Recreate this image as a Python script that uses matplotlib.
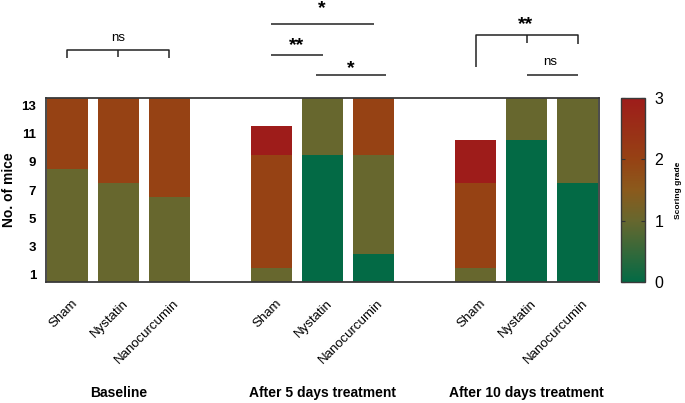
import matplotlib
matplotlib.use("Agg")
import matplotlib.pyplot as plt
import numpy as np
from matplotlib.colors import LinearSegmentedColormap, Normalize
from matplotlib.cm import ScalarMappable
import matplotlib.transforms as mtransforms

plt.rcParams['font.family'] = ['Liberation Sans', 'DejaVu Sans']

# ---- data ----
groups = ["Baseline", "After 5 days treatment", "After 10 days treatment"]
treatments = ["Sham", "Nystatin", "Nanocurcumin"]
grades = [0, 1, 2, 3]
# number of mice per grade for each bar (Baseline x3, 5 days x3, 10 days x3)
grade0_counts = [0, 0, 0, 0, 9, 2, 0, 10, 7]
grade1_counts = [8, 7, 6, 1, 4, 7, 1, 3, 6]
grade2_counts = [5, 6, 7, 8, 0, 4, 6, 0, 0]
grade3_counts = [0, 0, 0, 2, 0, 0, 3, 0, 0]
y_ticks = [1, 3, 5, 7, 9, 11, 13]
cbar_ticks = [0, 1, 2, 3]

# ---- colormap ----
cmap = LinearSegmentedColormap.from_list(
    "score",
    [(0.0, "#036A45"), (1/3, "#67672E"), (0.5, "#8B5A1C"), (2/3, "#964214"), (1.0, "#9E1C1A")])
norm = Normalize(0, 3)

fig = plt.figure(figsize=(6.85, 4.03), dpi=100)
ax = fig.add_axes([46/685, 1-282/403, (599-46)/685, (282-98)/403])

positions = []
for g in range(len(groups)):
    for t in range(len(treatments)):
        positions.append(g * 4 + t)
positions = np.array(positions, dtype=float)

counts = [grade0_counts, grade1_counts, grade2_counts, grade3_counts]
bottom = np.full(len(positions), 0.5)
for gr, c in zip(grades, counts):
    c = np.array(c, dtype=float)
    ax.bar(positions, c, bottom=bottom, width=0.82, color=cmap(norm(gr)),
           edgecolor='none', linewidth=0)
    bottom = bottom + c

ax.set_xlim(positions[0] - 0.42, positions[-1] + 0.42)
ax.set_ylim(0.5, 13.5)
ax.set_yticks(y_ticks)
ax.set_yticklabels([str(v) for v in y_ticks], fontsize=9.5, fontweight='bold')
ax.tick_params(axis='y', length=0, pad=7)

labels = treatments * len(groups)
ax.set_xticks(positions)
ax.set_xticklabels(labels, rotation=45, ha='right', va='center',
                   rotation_mode='anchor', fontsize=9.5)
ax.tick_params(axis='x', length=0, pad=14)
off = mtransforms.ScaledTranslation(8/100, 0, fig.dpi_scale_trans)
for lbl in ax.get_xticklabels():
    lbl.set_transform(lbl.get_transform() + off)

for sp in ax.spines.values():
    sp.set_color('#3a3a3a')
    sp.set_linewidth(1.3)

fig.text(8.7/685, 0.5*(2-282/403-98/403) , "No. of mice", rotation=90,
         ha='center', va='center', fontsize=10, fontweight='bold')

# group labels
for g, name in enumerate(groups):
    ax.text(positions[g*3+1], -0.605, name, transform=ax.get_xaxis_transform(),
            ha='center', va='center', fontsize=10, fontweight='bold')

# significance annotations
tr = ax.get_xaxis_transform()
lc = '#222222'
lw = 1.1
def line(xs, ys):
    ax.plot(xs, ys, color=lc, lw=lw, transform=tr, clip_on=False, solid_capstyle='butt')

# baseline bracket
line([0, 0, 2, 2], [1.216, 1.261, 1.261, 1.216])
line([1, 1], [1.261, 1.225])
ax.text(1, 1.328, "ns", transform=tr, ha='center', va='center', fontsize=9.5)

# 5 days
line([4, 6], [1.402, 1.402])
ax.text(4.98, 1.485, "*", transform=tr, ha='center', va='center', fontsize=14, fontweight='bold')
line([4, 5], [1.234, 1.234])
ax.text(4.49, 1.285, "**", transform=tr, ha='center', va='center', fontsize=14, fontweight='bold')
line([4.87, 6.25], [1.125, 1.125])
ax.text(5.55, 1.16, "*", transform=tr, ha='center', va='center', fontsize=14, fontweight='bold')

# 10 days
line([8, 8, 10, 10], [1.170, 1.342, 1.342, 1.293])
line([9, 9], [1.342, 1.30])
ax.text(8.98, 1.40, "**", transform=tr, ha='center', va='center', fontsize=14, fontweight='bold')
line([9, 10], [1.125, 1.125])
ax.text(9.47, 1.194, "ns", transform=tr, ha='center', va='center', fontsize=9.5)

# colorbar
cax = fig.add_axes([621/685, 1-282/403, 24/685, (282-98)/403])
sm = ScalarMappable(norm=norm, cmap=cmap)
cb = fig.colorbar(sm, cax=cax, ticks=cbar_ticks)
cb.outline.set_edgecolor('#3a3a3a')
cb.outline.set_linewidth(1.0)
cax.tick_params(direction='in', left=True, right=True, length=3, width=0.8,
                color='#333333', labelsize=11.5, pad=7)
cax.set_yticklabels([str(v) for v in cbar_ticks])
cax.text(2.375, 0.5, "Scoring grade", transform=cax.transAxes, rotation=90,
         ha='center', va='center', fontsize=6, fontweight='bold')

fig.savefig("out.png", dpi=100)
